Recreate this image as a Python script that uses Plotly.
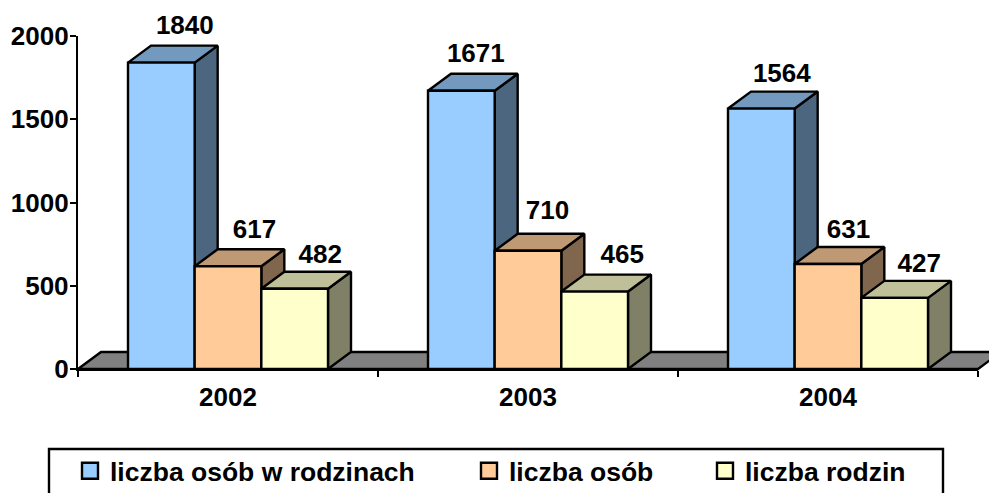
import plotly.graph_objects as go

years = ["2002", "2003", "2004"]
series_names = ["liczba osób w rodzinach", "liczba osób", "liczba rodzin"]
osob_w_rodzinach = [1840, 1671, 1564]
osob = [617, 710, 631]
rodzin = [482, 465, 427]
series_values = [osob_w_rodzinach, osob, rodzin]
front_colors = ["#99CCFF", "#FFCC99", "#FFFFCC"]
top_colors = ["#7399BF", "#BF9973", "#BFBF99"]
side_colors = ["#4D6680", "#80664D", "#808066"]

# small per-label placement offsets in pixels (right, up), [year][series]
label_shift_x = [[-1, 2, 1], [-10, -5, 3], [-4, -4, 0]]
label_shift_y = [[0, 0, -3], [0, 3, 0], [-2, -3, -3]]

W, H = 989, 493
L, R, T, B = 78, 11, 36, 124
PW, PH = W - L - R, H - T - B
UX = 3 / PW            # category units per pixel
UY = 2000 / PH         # value units per pixel
DX = 23 * UX           # depth offset
DY = 17 * UY
BAR = 2 / 9
FONT = dict(family="Liberation Sans, Arial, sans-serif", size=26, color="black", weight="bold")
LEG_FONT = dict(FONT, size=26.5)
LINE = dict(color="black", width=2.4)

fig = go.Figure()

def poly(xs, ys, fill):
    fig.add_trace(go.Scatter(x=xs + xs[:1], y=ys + ys[:1], mode="lines", fill="toself",
                             fillcolor=fill, line=LINE, showlegend=False, hoverinfo="skip",
                             xaxis="x", yaxis="y"))

# floor
poly([-0.5, -0.5 + DX, 2.5 + DX, 2.5], [0, DY, DY, 0], "#808080")

# depth faces, back to front
for i in range(len(years)):
    for s, vals in enumerate(series_values):
        x0 = i - 3 * BAR / 2 + s * BAR
        x1 = x0 + BAR
        v = vals[i]
        poly([x1, x1 + DX, x1 + DX, x1], [0, DY, v + DY, v], side_colors[s])
        poly([x0, x0 + DX, x1 + DX, x1], [v, v + DY, v + DY, v], top_colors[s])

# value labels
lx, ly, lt = [], [], []
for i in range(len(years)):
    for s, vals in enumerate(series_values):
        lx.append(i - BAR + s * BAR + DX + 0.005 + label_shift_x[i][s] * UX)
        ly.append(vals[i] + DY + 30 + label_shift_y[i][s] * UY)
        lt.append(str(vals[i]))
fig.add_trace(go.Scatter(x=lx, y=ly, text=lt, mode="text", textposition="top center",
                         textfont=FONT, showlegend=False, hoverinfo="skip",
                         xaxis="x", yaxis="y"))

# front faces
for s, vals in enumerate(series_values):
    fig.add_trace(go.Bar(x=years, y=vals, name=series_names[s], marker=dict(color=front_colors[s], line=LINE),
                         showlegend=False, xaxis="x2", yaxis="y2"))

# legend entries
legend_names = ["legend", "legend2", "legend3"]
for s in range(3):
    fig.add_trace(go.Scatter(x=[None], y=[None], mode="markers", name=series_names[s],
                             marker=dict(symbol="square", size=16, color=front_colors[s], line=LINE),
                             legend=legend_names[s], xaxis="x2", yaxis="y2"))

def legend_at(px):
    return dict(x=px / W, xref="container", y=1 - 447 / H, yref="container", xanchor="left", yanchor="top",
                orientation="h", font=LEG_FONT, bgcolor="rgba(0,0,0,0)", itemclick=False, itemdoubleclick=False,
                tracegroupgap=0)

fig.update_layout(
    width=W, height=H, autosize=False,
    margin=dict(l=0, r=0, t=0, b=0, pad=0, autoexpand=False),
    paper_bgcolor="white", plot_bgcolor="rgba(0,0,0,0)",
    barmode="group", bargap=1 / 3, bargroupgap=0,
    font=FONT,
    # full-page backdrop axes carry the depth faces, floor and value labels
    xaxis=dict(domain=[0, 1], range=[-0.5 - L * UX, -0.5 + (W - L) * UX], visible=False, fixedrange=True),
    yaxis=dict(domain=[0, 1], range=[-B * UY, (H - B) * UY], visible=False, fixedrange=True),
    # the chart's own axes
    xaxis2=dict(domain=[L / W, (W - R) / W], anchor="y2", type="category", categoryorder="array",
                categoryarray=years, range=[-0.5, 2.5], tickson="boundaries", ticks="outside", ticklen=6,
                tickwidth=2, tickcolor="black", showline=True, linecolor="black", linewidth=2.4, showgrid=False,
                zeroline=False, tickfont=FONT, ticklabelstandoff=4, fixedrange=True),
    yaxis2=dict(domain=[B / H, (H - T) / H], anchor="x2", range=[0, 2000], tickvals=[0, 500, 1000, 1500, 2000],
                ticks="outside", ticklen=6, tickwidth=2, tickcolor="black", showline=True,
                linecolor="black", linewidth=2.4, showgrid=False, zeroline=False, tickfont=FONT,
                ticklabelstandoff=-4, fixedrange=True),
    legend=legend_at(70),
    legend2=legend_at(469),
    legend3=legend_at(705),
    showlegend=True,
    shapes=[dict(type="rect", xref="paper", yref="paper",
                 x0=49 / W, x1=943 / W, y0=-0.05, y1=1 - 449 / H,
                 line=LINE, fillcolor="rgba(0,0,0,0)", layer="above")],
)

fig.write_html("out.html", config={"displayModeBar": False}, post_script="document.body.style.margin='0';")
